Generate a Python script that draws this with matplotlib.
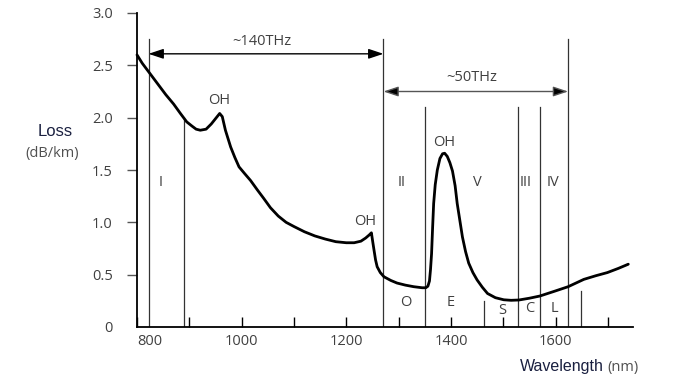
import matplotlib
matplotlib.use("Agg")
import matplotlib.pyplot as plt

# ---- data ----
wavelength = [800, 810, 822, 840, 855, 870, 883, 895, 905, 913, 921, 932, 942, 950, 958, 963,
              969, 974, 979, 987, 995, 1005, 1017, 1030, 1042, 1055, 1070, 1085, 1100,
              1120, 1140, 1160, 1180, 1200, 1215, 1228, 1237, 1244, 1248, 1251, 1253,
              1256, 1259, 1265, 1272, 1285, 1297, 1313, 1329, 1345, 1352, 1356, 1359,
              1361, 1363, 1365, 1367, 1370, 1374, 1379, 1384, 1388, 1393, 1398, 1403,
              1408, 1412, 1417, 1422, 1428, 1434, 1442, 1450, 1460, 1470, 1485, 1501,
              1515, 1530, 1550, 1570, 1597, 1624, 1654, 1677, 1699, 1720, 1739]
loss = [2.60, 2.52, 2.44, 2.32, 2.22, 2.13, 2.04, 1.96, 1.92, 1.89, 1.88, 1.89, 1.94, 1.99, 2.04, 2.01,
        1.88, 1.80, 1.72, 1.62, 1.53, 1.47, 1.40, 1.31, 1.23, 1.14, 1.06, 1.00, 0.96,
        0.91, 0.87, 0.84, 0.815, 0.805, 0.805, 0.82, 0.85, 0.88, 0.90, 0.80, 0.735,
        0.64, 0.576, 0.52, 0.48, 0.445, 0.42, 0.40, 0.385, 0.375, 0.375, 0.39, 0.44,
        0.55, 0.70, 0.95, 1.18, 1.36, 1.50, 1.61, 1.655, 1.66, 1.63, 1.57, 1.49,
        1.35, 1.18, 1.02, 0.86, 0.72, 0.61, 0.52, 0.45, 0.38, 0.32, 0.28, 0.26,
        0.255, 0.258, 0.275, 0.296, 0.34, 0.385, 0.455, 0.49, 0.52, 0.56, 0.60]

x_ticks_major = [800, 1000, 1200, 1400, 1600]
x_ticks_minor = [900, 1100, 1300, 1500, 1700]
y_ticks = [0, 0.5, 1.0, 1.5, 2.0, 2.5, 3.0]
y_tick_labels = ["0", "0.5", "1.0", "1.5", "2.0", "2.5", "3.0"]

# window boundary lines: (wavelength, top loss)
boundaries_wl = [822, 889, 1271, 1351, 1529, 1570, 1624, 1463, 1648]
boundaries_top = [2.75, 2.0, 2.75, 2.10, 2.10, 2.10, 2.75, 0.25, 0.34]

# window labels
window_labels = ["I", "II", "V", "III", "IV"]
window_label_wl = [845, 1306, 1451, 1543, 1596]
window_label_y = 1.385

band_labels = ["O", "E", "S", "C", "L"]
band_label_wl = [1313, 1399, 1499, 1550, 1598]
band_label_y = [0.23, 0.23, 0.16, 0.18, 0.18]

oh_wl = [958, 1388, 1237]
oh_y = [2.16, 1.76, 1.01]

span140 = (822, 1271, 2.61, "~140THz", 2.73)
span50 = (1271, 1624, 2.25, "~50THz", 2.38)

FONT = ["Open Sans", "DejaVu Sans"]
GRAY = "#404040"

fig = plt.figure(figsize=(6.77, 3.80), dpi=100)
ax = fig.add_axes([137/677, 53/380, (633-137)/677, (327-13)/380])
ax.set_xlim(800, 1748)
ax.set_ylim(0, 3.0)

for s in ["top", "right"]:
    ax.spines[s].set_visible(False)
ax.spines["left"].set_linewidth(1.3)
ax.spines["bottom"].set_linewidth(1.3)

ax.set_xticks(x_ticks_major)
ax.set_xticks(x_ticks_minor, minor=True)
ax.set_xticklabels([str(v) for v in x_ticks_major], fontfamily=FONT, fontsize=10.5, color=GRAY)
ax.tick_params(axis="x", which="both", direction="in", length=7.5, width=1.0, color="black", pad=5)
ax.get_xticklabels()[0].set_ha("left")

ax.set_yticks(y_ticks)
ax.set_yticklabels(y_tick_labels, fontfamily=FONT, fontsize=10.5, color=GRAY)
ax.tick_params(axis="y", direction="out", length=7.5, width=1.0, color="#555555", pad=10)
ax.yaxis.get_major_ticks()[0].tick1line.set_visible(False)

# boundary lines
for w, t in zip(boundaries_wl, boundaries_top):
    ax.plot([w, w], [0, t], color="#333333", lw=0.9, zorder=2)

# loss curve
ax.plot(wavelength, loss, color="black", lw=2.0, solid_capstyle="round",
        solid_joinstyle="round", zorder=3, clip_on=False)

# spans with arrows
for (x0, x1, ya, txt, yt), col in [(span140, "black"), (span50, "#555555")]:
    ax.annotate("", xy=(x0, ya), xytext=(x1, ya),
                arrowprops=dict(arrowstyle="<|-|>,head_length=0.9,head_width=0.3",
                                color=col, lw=1.0, shrinkA=0, shrinkB=0, fc="black", ec=col))
    ax.text((x0 + x1) / 2 - 8, yt, txt, fontfamily=FONT, fontsize=10.5,
            color=GRAY, ha="center", va="center")

for lab, w in zip(window_labels, window_label_wl):
    ax.text(w, window_label_y, lab, fontfamily=FONT, fontsize=10.5, color=GRAY,
            ha="center", va="center")
for lab, w, yy in zip(band_labels, band_label_wl, band_label_y):
    ax.text(w, yy, lab, fontfamily=FONT, fontsize=10.5, color=GRAY,
            ha="center", va="center")
for w, yy in zip(oh_wl, oh_y):
    ax.text(w, yy, "OH", fontfamily=FONT, fontsize=10.5, color=GRAY,
            ha="center", va="center")

# axis titles
fig.text(55/677, 1 - 132/380, "Loss", fontfamily=["Liberation Sans"], fontsize=12,
         color="#1a2040", ha="center", va="center")
fig.text(52/677, 1 - 154/380, "(dB/km)", fontfamily=FONT, fontsize=10.5,
         color="#505050", ha="center", va="center")
fig.text(604/677, 1 - 367/380, "Wavelength", fontfamily=["Liberation Sans"], fontsize=11.5,
         color="#1a2040", ha="right", va="center")
fig.text(607/677, 1 - 367/380, "(nm)", fontfamily=FONT, fontsize=10.5,
         color="#505050", ha="left", va="center")

fig.savefig("out.png", dpi=100)
